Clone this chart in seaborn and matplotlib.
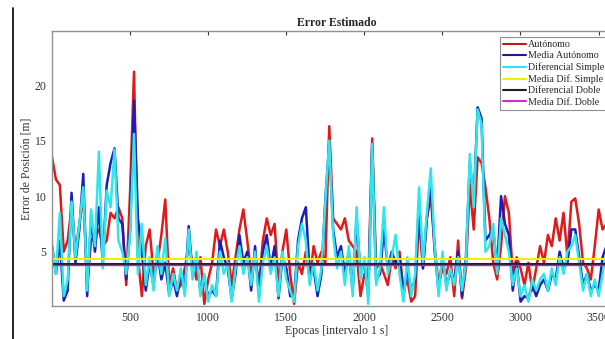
import numpy as np
import pandas as pd
import matplotlib
matplotlib.use("Agg")
import matplotlib.pyplot as plt
from matplotlib.lines import Line2D
import seaborn as sns

# epocas de muestreo (cada 25 s)
epocas = np.arange(1, 3627, 25)

# Autónomo (rojo)
autonomo = [
    13.5, 11.5, 11.0, 5.0, 6.0, 9.0, 5.0, 7.5, 10.0, 2.0,
    6.0, 6.5, 7.0, 5.5, 6.0, 8.5, 8.0, 9.0, 8.0, 2.0,
    10.5, 21.2, 4.5, 1.0, 5.5, 7.0, 3.0, 4.0, 6.5, 9.7,
    2.0, 3.5, 1.5, 2.0, 3.5, 5.5, 4.0, 2.5, 4.5, 0.3,
    2.5, 4.0, 7.0, 5.5, 7.0, 5.0, 2.0, 4.5, 7.0, 8.8,
    6.0, 3.0, 4.5, 2.0, 6.0, 8.0, 6.5, 7.5, 2.0, 5.0,
    7.0, 3.0, 0.3, 4.0, 3.0, 5.0, 2.5, 5.5, 4.0, 5.0,
    4.0, 16.3, 8.0, 7.5, 7.0, 8.0, 6.0, 5.5, 5.0, 1.0,
    3.0, 2.0, 15.2, 3.5, 4.0, 3.0, 2.0, 4.5, 3.5, 5.0,
    1.5, 2.5, 0.5, 1.0, 8.0, 3.5, 8.0, 10.0, 5.5, 2.0,
    3.5, 3.0, 4.5, 1.0, 6.0, 0.8, 3.5, 11.0, 7.0, 13.5,
    13.0, 10.8, 8.0, 4.0, 2.5, 5.5, 10.0, 8.5, 3.0, 4.5,
    3.5, 2.0, 4.0, 1.5, 3.5, 5.5, 4.0, 6.5, 5.5, 8.0,
    6.0, 8.5, 4.5, 9.5, 9.8, 7.5, 4.0, 3.5, 2.5, 5.5,
    8.8, 7.0, 7.5, 6.5, 5.5, 6.0,
]

# serie azul
azul = [
    5.5, 3.0, 6.0, 0.6, 1.5, 10.3, 4.0, 7.0, 12.0, 1.0,
    8.0, 5.0, 9.0, 4.0, 11.0, 13.0, 14.3, 8.0, 7.5, 2.5,
    7.0, 18.6, 8.0, 5.0, 1.5, 4.0, 2.0, 5.0, 2.5, 4.0,
    1.2, 2.5, 1.0, 3.0, 1.5, 7.3, 3.0, 4.0, 1.5, 2.5,
    1.0, 1.5, 1.0, 6.0, 4.5, 3.5, 0.8, 3.0, 6.5, 4.0,
    5.0, 1.5, 5.5, 1.0, 5.0, 6.5, 3.5, 5.5, 0.8, 4.5,
    3.5, 1.0, 1.0, 6.0, 8.0, 9.0, 3.0, 3.5, 1.0, 3.0,
    9.7, 14.8, 7.0, 4.5, 5.5, 3.0, 5.0, 1.5, 8.0, 3.0,
    4.0, 1.0, 14.7, 2.5, 3.0, 7.0, 3.5, 5.0, 4.0, 4.5,
    1.0, 3.5, 1.5, 2.5, 9.5, 3.5, 8.0, 11.0, 5.0, 1.5,
    4.5, 2.0, 3.0, 2.5, 5.0, 1.0, 4.5, 13.0, 9.5, 18.0,
    17.0, 6.0, 6.5, 7.0, 3.5, 10.0, 7.5, 6.5, 1.5, 4.0,
    0.5, 1.0, 0.8, 2.0, 1.0, 2.0, 2.5, 1.5, 3.0, 2.5,
    5.0, 3.5, 4.0, 7.0, 7.0, 4.5, 2.0, 3.0, 1.5, 2.0,
    1.5, 4.5, 5.5, 3.0, 4.5, 3.5,
]

# Diferencial Simple (cian)
dif_simple = [
    5.5, 3.0, 8.5, 1.0, 2.5, 9.5, 4.5, 7.5, 10.8, 1.5,
    8.8, 5.5, 14.0, 3.5, 10.5, 9.0, 14.2, 6.0, 5.0, 3.0,
    6.5, 15.6, 3.0, 7.5, 2.0, 4.5, 1.5, 5.5, 3.0, 6.2,
    1.0, 3.0, 1.5, 3.5, 1.0, 7.0, 2.5, 5.0, 1.0, 3.0,
    0.5, 2.0, 1.0, 5.0, 3.0, 4.0, 0.5, 3.5, 5.5, 3.0,
    4.5, 2.0, 5.0, 0.5, 4.0, 5.5, 3.0, 4.5, 1.0, 5.0,
    2.5, 1.5, 0.5, 5.5, 7.5, 6.0, 2.0, 4.0, 1.5, 3.5,
    9.5, 15.0, 6.5, 3.5, 5.0, 2.0, 5.5, 1.0, 9.0, 2.5,
    4.5, 0.3, 14.7, 2.0, 3.5, 9.0, 3.0, 4.5, 6.5, 3.0,
    0.5, 4.5, 1.0, 3.0, 10.8, 4.0, 8.5, 12.5, 5.5, 1.0,
    5.0, 1.5, 3.5, 2.0, 4.5, 1.5, 4.0, 13.8, 9.0, 17.8,
    16.5, 5.0, 5.5, 7.5, 3.0, 8.0, 6.5, 5.0, 2.0, 3.5,
    1.0, 2.0, 0.5, 2.5, 1.5, 2.5, 3.0, 1.5, 3.5, 2.0,
    4.5, 3.0, 5.0, 5.5, 6.5, 4.0, 1.5, 3.0, 1.0, 2.5,
    1.0, 3.0, 5.0, 2.5, 4.0, 3.0,
]

# medias
media_autonomo = 3.90
media_dif_simple = 4.32
dif_doble = 3.87
media_dif_doble = 3.83

df = pd.DataFrame({"epoca": epocas, "auto": autonomo, "azul": azul,
                   "simple": dif_simple})

sns.set_style("white")
plt.rcParams["font.family"] = ["Liberation Serif", "DejaVu Serif"]

fig = plt.figure(figsize=(6.05, 3.39), dpi=100)
ax = fig.add_axes([0.086, 0.097, 0.942, 0.811])

sns.lineplot(data=df, x="epoca", y="auto", color="#e01a1a", lw=1.8, ax=ax,
             label="Autónomo")
sns.lineplot(data=df, x="epoca", y="azul", color="#1c1cb8", lw=1.8, ax=ax,
             label="_azul")
sns.lineplot(data=df, x="epoca", y="simple", color="#30e6ea", lw=1.8, ax=ax,
             label="_simple")

ax.axhline(media_dif_simple, color="#f0f000", lw=1.5)
ax.axhline(media_autonomo, color="#1c1cb8", lw=1.5)
ax.axhline(dif_doble, color="#202020", lw=1.3)
ax.axhline(media_dif_doble, color="#c020c0", lw=1.0)

ax.set_xlim(1, 3650)
ax.set_ylim(0.1, 24.85)
ax.set_xticks([500, 1000, 1500, 2000, 2500, 3000, 3500])
ax.set_yticks([5, 10, 15, 20])
ax.tick_params(direction="in", length=3, labelsize=8.5, colors="#333333",
               top=True, right=True, pad=4)
for s in ax.spines.values():
    s.set_color("#909090")
    s.set_linewidth(1.0)

ax.set_title("Error Estimado", fontsize=8.5, fontweight="bold", pad=4)
ax.set_xlabel("Epocas [intervalo 1 s]", fontsize=8.5, color="#333333",
              labelpad=1)
ax.set_ylabel("Error de Posición [m]", fontsize=8.5, color="#333333")
ax.yaxis.set_label_coords(-0.034, 0.5)

handles = [
    Line2D([], [], color="#c01818", lw=1.5),
    Line2D([], [], color="#1c1c90", lw=1.5),
    Line2D([], [], color="#30e6ea", lw=1.5),
    Line2D([], [], color="#f0f000", lw=1.5),
    Line2D([], [], color="#202020", lw=1.5),
    Line2D([], [], color="#d030d0", lw=1.5),
]
labels = ["Autónomo", "Media Autónomo", "Diferencial Simple",
          "Media Dif. Simple", "Diferencial Doble", "Media Dif. Doble"]
leg = ax.legend(handles, labels, loc="upper left",
                bbox_to_anchor=(0.786, 0.978), borderaxespad=0,
                fontsize=7.2, frameon=True, fancybox=False, framealpha=1,
                edgecolor="#909090", handlelength=2.3, handletextpad=0.2,
                labelspacing=0.22, borderpad=0.3)
leg.get_frame().set_linewidth(0.8)

# linea vertical del borde izquierdo
fig.add_artist(Line2D([0.021, 0.021], [0.0, 0.975], color="black", lw=1.2,
                      transform=fig.transFigure))

fig.savefig("out.png", dpi=100)
